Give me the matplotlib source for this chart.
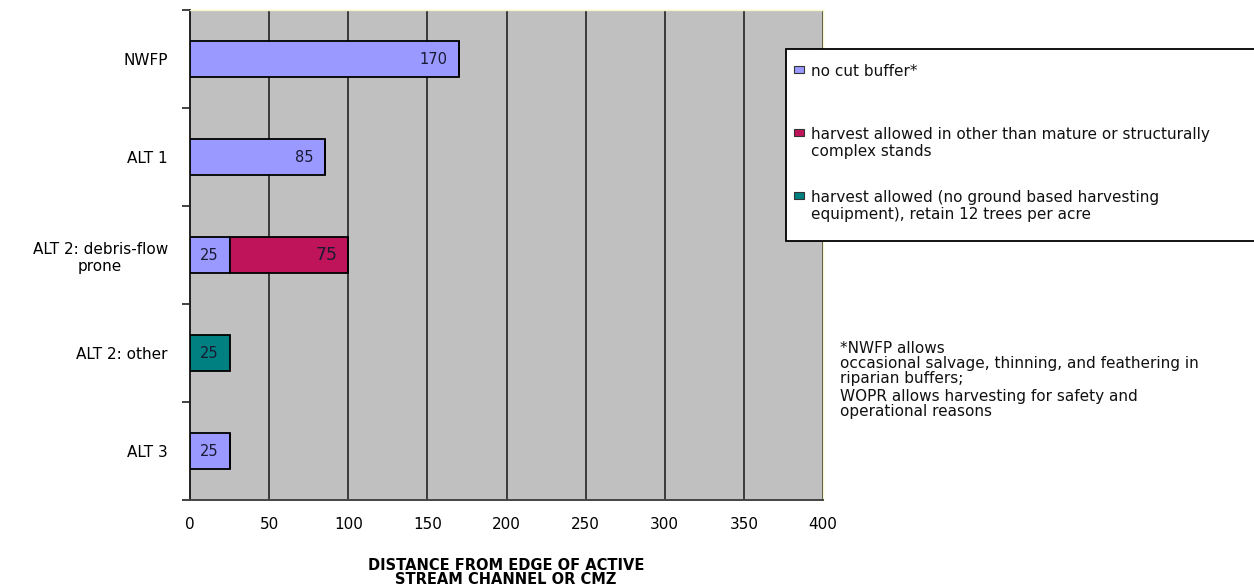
import matplotlib
matplotlib.use("Agg")
import matplotlib.pyplot as plt
from matplotlib.patches import Rectangle
import numpy as np

categories = ["NWFP", "ALT 1", "ALT 2: debris-flow\nprone", "ALT 2: other", "ALT 3"]
no_cut = [170, 85, 25, 0, 25]
harvest_other = [0, 0, 75, 0, 0]
harvest_no_ground = [0, 0, 0, 25, 0]
series_labels = [["no cut buffer*"],
                 ["harvest allowed in other than mature or structurally", "complex stands"],
                 ["harvest allowed (no ground based harvesting", "equipment), retain 12 trees per acre"]]
colors = ["#9999FF", "#C0145A", "#008080"]
x_ticks = [0, 50, 100, 150, 200, 250, 300, 350, 400]
x_label = "DISTANCE FROM EDGE OF ACTIVE\nSTREAM CHANNEL OR CMZ"
footnote = ["*NWFP allows",
            "occasional salvage, thinning, and feathering in",
            "riparian buffers;",
            "WOPR allows harvesting for safety and",
            "operational reasons"]

plt.rcParams['font.family'] = ['DejaVu Sans']

W, H = 1254, 586
fig = plt.figure(figsize=(W/100, H/100), dpi=100)
ax = fig.add_axes([190/W, 1-500/H, (823-190)/W, 490/H])
ax.set_facecolor("#C0C0C0")

def fx(px):
    return px / W

def fy(py):
    return 1 - py / H

y = np.arange(len(categories))
h = 0.37
lefts = np.zeros(len(categories))
for vals, col in zip([no_cut, harvest_other, harvest_no_ground], colors):
    vals = np.array(vals, dtype=float)
    ax.barh(y, vals, left=lefts, height=h, color=col, edgecolor="black", linewidth=1.3, zorder=3)
    for yi, l, v in zip(y, lefts, vals):
        if v > 0:
            ax.annotate(f"{int(v)}", xy=(l + v, yi), xytext=(-8, 0), textcoords="offset points",
                        ha="right", va="center", fontsize=10.5 if v != 75 else 12.5,
                        color="#1a1a33", zorder=4)
    lefts = lefts + vals

ax.set_xlim(0, 400)
ax.set_ylim(len(categories) - 0.5, -0.5)
ax.set_xticks(x_ticks)
ax.set_xticklabels([str(t) for t in x_ticks], fontsize=11)
ax.xaxis.grid(True, color="#3a3a3a", linewidth=1.4, zorder=1)
ax.set_axisbelow(True)
ax.tick_params(axis="x", length=0, pad=12)

ax.set_yticks(y)
ax.set_yticklabels(categories, fontsize=11, multialignment="center")
ax.tick_params(axis="y", length=0, pad=16)
ax.set_yticks(np.arange(-0.5, len(categories), 1.0), minor=True)
ax.tick_params(axis="y", which="minor", length=6, width=1.2, direction="out", color="#222222")

for s in ["top", "right"]:
    ax.spines[s].set_color("#F5F5C8")
    ax.spines[s].set_linewidth(1.0)
ax.spines["left"].set_linewidth(1.4)
ax.spines["left"].set_color("#222222")
ax.spines["bottom"].set_linewidth(1.4)
ax.spines["bottom"].set_color("#444444")

fig.text(fx(506), fy(558), x_label, ha="center", va="top", fontsize=10.5, fontweight="bold",
         linespacing=0.95)

# legend box (drawn manually so each key sits beside the first line of its label)
fig.patches.append(Rectangle((fx(786), fy(241)), fx(1270) - fx(786), fy(49) - fy(241),
                             transform=fig.transFigure, facecolor="white", edgecolor="black",
                             linewidth=1.3, zorder=5))
entry_y = [70, 133, 196]
for col, lines, ey in zip(colors, series_labels, entry_y):
    fig.patches.append(Rectangle((fx(794), fy(ey + 3)), fx(10), 7 / H, transform=fig.transFigure,
                                 facecolor=col, edgecolor="#333333", linewidth=0.8, zorder=6))
    for k, line in enumerate(lines):
        fig.text(fx(811), fy(ey + 17 * k), line, ha="left", va="center_baseline", fontsize=11,
                 color="#111111", zorder=7)

foot_y = [347, 362, 377, 395, 410]
for line, ly in zip(footnote, foot_y):
    fig.text(fx(840), fy(ly), line, ha="left", va="center_baseline", fontsize=11, color="#111111")

fig.savefig("out.png", dpi=100)
